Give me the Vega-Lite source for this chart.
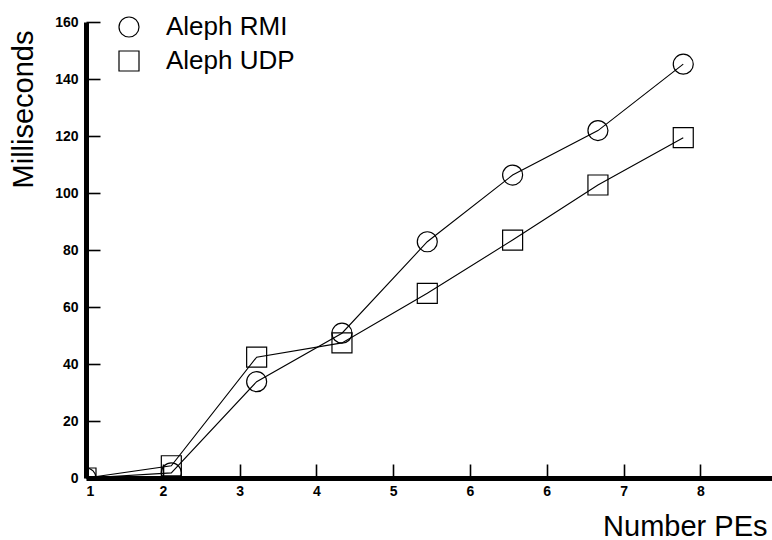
{
  "$schema": "https://vega.github.io/schema/vega-lite/v6.json",
  "width": 686,
  "height": 456,
  "autosize": "none",
  "padding": {"left": 86, "top": 22, "right": 0, "bottom": 62},
  "background": "white",
  "config": {
    "view": {"stroke": null},
    "font": "Liberation Sans",
    "axis": {
      "domainColor": "black",
      "domainWidth": 5,
      "tickColor": "black",
      "tickWidth": 1.6,
      "tickSize": -14,
      "grid": false,
      "labelFont": "Liberation Sans",
      "labelFontWeight": "bold",
      "labelFontSize": 14,
      "labelColor": "black",
      "titleFont": "Liberation Sans",
      "titleFontWeight": "normal",
      "titleFontSize": 29,
      "titleColor": "black",
      "zindex": 1
    }
  },
  "data": {
    "values": [
      {"pes": 1, "ms": 0, "series": "Aleph RMI"},
      {"pes": 2, "ms": 1.8, "series": "Aleph RMI"},
      {"pes": 3, "ms": 33.8, "series": "Aleph RMI"},
      {"pes": 4, "ms": 50.8, "series": "Aleph RMI"},
      {"pes": 5, "ms": 82.9, "series": "Aleph RMI"},
      {"pes": 6, "ms": 106.3, "series": "Aleph RMI"},
      {"pes": 7, "ms": 121.9, "series": "Aleph RMI"},
      {"pes": 8, "ms": 145.2, "series": "Aleph RMI"},
      {"pes": 1, "ms": 0, "series": "Aleph UDP"},
      {"pes": 2, "ms": 4.3, "series": "Aleph UDP"},
      {"pes": 3, "ms": 42.4, "series": "Aleph UDP"},
      {"pes": 4, "ms": 47.4, "series": "Aleph UDP"},
      {"pes": 5, "ms": 64.8, "series": "Aleph UDP"},
      {"pes": 6, "ms": 83.5, "series": "Aleph UDP"},
      {"pes": 7, "ms": 102.8, "series": "Aleph UDP"},
      {"pes": 8, "ms": 119.4, "series": "Aleph UDP"}
    ]
  },
  "encoding": {
    "x": {
      "field": "pes",
      "type": "quantitative",
      "scale": {"domain": [1, 9.04], "nice": false, "zero": false},
      "axis": {
        "values": [1, 1.9, 2.8, 3.7, 4.6, 5.5, 6.4, 7.3, 8.2],
        "format": ".0f",
        "labelPadding": 20,
        "title": "Number PEs",
        "titleAlign": "right",
        "titleAnchor": "end",
        "titleX": 681,
        "titleY": 57,
        "titleBaseline": "alphabetic"
      }
    },
    "y": {
      "field": "ms",
      "type": "quantitative",
      "scale": {"domain": [0, 160], "nice": false},
      "axis": {
        "values": [0, 20, 40, 60, 80, 100, 120, 140, 160],
        "labelPadding": 22,
        "title": "Milliseconds",
        "titleAngle": -90,
        "titleAlign": "right",
        "titleBaseline": "middle",
        "titleX": -63,
        "titleY": 8
      }
    }
  },
  "layer": [
    {
      "mark": {"type": "line", "color": "black", "strokeWidth": 1.1, "clip": true},
      "encoding": {"detail": {"field": "series"}}
    },
    {
      "mark": {"type": "point", "filled": false, "stroke": "black", "strokeWidth": 1.2, "size": 400, "opacity": 1, "clip": true},
      "encoding": {
        "shape": {
          "field": "series",
          "type": "nominal",
          "scale": {"domain": ["Aleph RMI", "Aleph UDP"], "range": ["circle", "square"]},
          "legend": {
            "title": null,
            "orient": "none",
            "legendX": 30,
            "legendY": -8,
            "padding": 0,
            "labelFont": "Liberation Sans",
            "labelFontSize": 26,
            "labelColor": "black",
            "labelOffset": 24,
            "symbolSize": 400,
            "symbolStrokeColor": "black",
            "symbolStrokeWidth": 1.2,
            "symbolFillColor": "transparent",
            "rowPadding": 8
          }
        }
      }
    }
  ]
}
